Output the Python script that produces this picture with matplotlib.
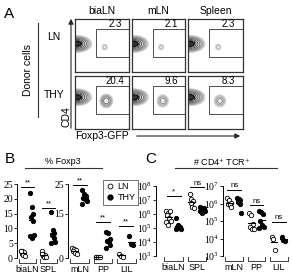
import numpy as np
import matplotlib
matplotlib.use("Agg")
import matplotlib.pyplot as plt
from matplotlib.lines import Line2D
from matplotlib.patches import Rectangle, FancyArrowPatch

W, H = 292, 275

# panel A: flow plots
flow_cols = ["biaLN", "mLN", "Spleen"]
flow_rows = ["LN", "THY"]
foxp3_pct = [[2.3, 2.1, 2.3], [20.4, 9.6, 8.3]]

# panel B: % Foxp3
b_left_groups = ["biaLN", "SPL"]
b_left_ln = [[2.3, 2.2, 2.0, 1.5, 1.0, 0.8, 2.5], [2.2, 1.5, 1.0, 0.8, 0.5, 0.3, 1.2]]
b_left_thy = [[21.8, 17.1, 14.7, 13.8, 12.4, 7.9, 7.4, 6.9],
              [15.4, 9.6, 8.6, 7.9, 6.6, 5.4, 4.9]]
b_left_sig = ["**", "**"]
b_left_sig_y = [24.0, 17.0]

b_right_groups = ["mLN", "PP", "LIL"]
b_right_ln = [[3.5, 3.0, 2.6, 2.2, 1.8, 1.5], [0.5, 0.4, 0.3, 0.3, 0.2, 0.2], [1.3, 0.8, 0.5]]
b_right_thy = [[23.0, 21.5, 21.0, 20.3, 19.8, 19.2, 18.2],
               [8.8, 8.4, 6.5, 5.9, 5.4, 4.3, 3.4],
               [7.4, 4.8, 4.5]]
b_right_sig = ["**", "**", "**"]
b_right_sig_y = [24.5, 12.2, 10.8]

# panel C: # CD4+ TCR+ (log10 counts)
c_left_groups = ["biaLN", "SPL"]
c_left_ln = [[6.2, 6.1, 6.2, 5.9, 5.75, 5.5, 5.4, 5.2], [7.4, 7.1, 6.9, 6.8, 6.5, 6.4]]
c_left_thy = [[5.7, 5.2, 5.1, 5.05, 5.0, 4.95, 4.9], [6.5, 6.45, 6.4, 6.35, 6.3, 6.25, 6.2, 6.1]]
c_left_sig = ["*", "ns"]
c_left_sig_y = [7.3, 7.9]

c_right_groups = ["mLN", "PP", "LIL"]
c_right_ln = [[6.3, 6.2, 6.05, 5.95, 5.9, 5.8], [5.45, 5.35, 4.85, 4.65, 4.55, 4.55], [4.1, 4.0, 3.35]]
c_right_thy = [[6.3, 6.25, 6.2, 6.1, 5.95, 5.45], [5.55, 5.5, 5.4, 5.0, 4.75, 4.65, 4.6], [4.1, 3.9, 3.85]]
c_right_sig = ["ns", "ns", "ns"]
c_right_sig_y = [6.77, 5.9, 4.94]

SANS = "Liberation Sans"
SERIF = "Liberation Serif"
plt.rcParams["mathtext.fontset"] = "stix"


def rect(x0, y0, x1, y1):
    return [x0 / W, 1 - y1 / H, (x1 - x0) / W, (y1 - y0) / H]


def ftext(fig, x, y, s, **kw):
    kw.setdefault("family", SANS)
    fig.text(x / W, 1 - y / H, s, ha=kw.pop("ha", "center"), va=kw.pop("va", "center"), **kw)


def fline(fig, x0, y0, x1, y1, **kw):
    fig.add_artist(Line2D([x0 / W, x1 / W], [1 - y0 / H, 1 - y1 / H],
                          transform=fig.transFigure, **kw))


def farrow(fig, x0, y0, x1, y1):
    fig.add_artist(FancyArrowPatch((x0 / W, 1 - y0 / H), (x1 / W, 1 - y1 / H),
                                   transform=fig.transFigure,
                                   arrowstyle="-|>,head_length=3,head_width=1.5",
                                   color="0.15", lw=0.8))


def flow_plot(ax, pct, row):
    xs = np.linspace(-0.3, 1.05, 240)
    ys = np.linspace(-0.05, 1.05, 220)
    X, Y = np.meshgrid(xs, ys)
    my = 0.53 if row == 0 else 0.60
    main = np.exp(-((X - 0.04) ** 2 / (2 * 0.085 ** 2) + (Y - my) ** 2 / (2 * 0.05 ** 2)))
    by = 0.47 if row == 0 else 0.53
    bx = 0.55 if row == 0 else 0.58
    bs = 0.03 if row == 0 else 0.045
    amp = pct / 100 * 1.1
    blob = amp * np.exp(-((X - bx) ** 2 / (2 * bs ** 2) + (Y - by) ** 2 / (2 * (bs * 1.1) ** 2)))
    Z = main + blob
    levels = [0.007, 0.015, 0.03, 0.06, 0.12, 0.25, 0.45, 0.7]
    cols = [str(g) for g in np.linspace(0.8, 0.05, len(levels))]
    ax.contourf(X, Y, Z, levels=[0.45, 2], colors=["0.2"])
    ax.contourf(X, Y, Z, levels=[0.007, 0.45], colors=["0.93"])
    ax.contour(X, Y, Z, levels=levels, colors=cols, linewidths=0.6)
    ax.add_patch(Rectangle((0.39, 0.28), 0.61, 0.53, fill=False, lw=0.7, ec="0.3"))
    ax.text(0.74, 0.9, f"{pct}", ha="center", va="center", fontsize=7, family=SANS)
    ax.set_xlim(0, 1)
    ax.set_ylim(0, 1)
    ax.set_xticks([])
    ax.set_yticks([])
    for s in ax.spines.values():
        s.set_linewidth(0.9)
        s.set_color("0.2")


def offsets(n, w):
    return ((np.arange(n) % 3) - 1) * w + ((np.arange(n) // 3) % 2 - 0.5) * w * 0.5


def dot_plot(ax, groups, ln, thy, sig, sig_y, log=False):
    tr = ax.get_xaxis_transform()
    for g, name in enumerate(groups):
        for vals, dx, filled in [(ln[g], -0.22, False), (thy[g], 0.22, True)]:
            v = np.array(vals, dtype=float)
            if log:
                v = 10 ** v
            x = g + dx + offsets(len(v), 0.08)
            ax.scatter(x, v, s=10, facecolor="black" if filled else "white",
                       edgecolor="black", linewidth=0.6, zorder=3, clip_on=False)
            m = np.exp(np.mean(np.log(v))) if log else v.mean()
            ax.plot([g + dx - 0.15, g + dx + 0.15], [m, m], color="black", lw=0.8, zorder=4)
        sy = 10 ** sig_y[g] if log else sig_y[g]
        ax.plot([g - 0.3, g + 0.3], [sy, sy], color="black", lw=0.7, clip_on=False)
        ax.annotate(sig[g], (g, sy), xytext=(0, 0.5), textcoords="offset points",
                    ha="center", va="bottom", fontsize=5.5, family=SANS, annotation_clip=False)
        # bracket under the group
        ax.plot([g - 0.4, g - 0.4, g + 0.4, g + 0.4], [-0.02, -0.07, -0.07, -0.02],
                transform=tr, color="0.25", lw=0.7, clip_on=False)
        ax.text(g, -0.16, name, transform=tr, ha="center", va="center",
                fontsize=6.5, family=SANS)
    ax.spines["top"].set_visible(False)
    ax.spines["right"].set_visible(False)
    ax.spines["bottom"].set_visible(False)
    ax.set_xticks([])
    ax.tick_params(axis="y", length=2, width=0.6, pad=1, labelsize=7)
    ax.spines["left"].set_linewidth(0.7)


fig = plt.figure(figsize=(W / 100, H / 100), dpi=100)

# ---- panel A ----
col_x = [(75, 129), (132, 185), (188, 243)]
row_y = [(19, 72), (76, 129)]
for r in range(2):
    for c in range(3):
        ax = fig.add_axes(rect(col_x[c][0], row_y[r][0], col_x[c][1], row_y[r][1]))
        flow_plot(ax, foxp3_pct[r][c], r)
for c, name in enumerate(flow_cols):
    ftext(fig, (col_x[c][0] + col_x[c][1]) / 2, 11, name, fontsize=7.5)
ftext(fig, 9, 14, "A", fontsize=11)
ftext(fig, 28, 70, "Donor cells", fontsize=7.5, rotation=90)
fline(fig, 38, 23, 38, 117, color="0.2", lw=0.8)
for r, name in enumerate(flow_rows):
    ftext(fig, 54, 37 if r == 0 else 95, name, fontsize=7.5)
ftext(fig, 66, 117, "CD4", fontsize=7.5, rotation=90)
ftext(fig, 102, 136, "Foxp3-GFP", fontsize=7.5)
farrow(fig, 71, 131, 71, 16)
farrow(fig, 134, 136, 243, 136)

# ---- panel B ----
ftext(fig, 10, 159, "B", fontsize=11)
ftext(fig, 63, 162, "% Foxp3", fontsize=6.5)
fline(fig, 25, 168, 102, 168, color="0.2", lw=0.8)

axb1 = fig.add_axes(rect(17, 184, 58, 258))
dot_plot(axb1, b_left_groups, b_left_ln, b_left_thy, b_left_sig, b_left_sig_y)
axb1.set_xlim(-0.5, 1.45)
axb1.set_ylim(0, 25)
axb1.set_yticks([0, 5, 10, 15, 20, 25])

axb2 = fig.add_axes(rect(68, 184, 138, 258))
dot_plot(axb2, b_right_groups, b_right_ln, b_right_thy, b_right_sig, b_right_sig_y)
axb2.set_xlim(-0.5, 2.5)
axb2.set_ylim(0, 25)
axb2.set_yticks([0, 15, 25])
hl = [Line2D([], [], marker="o", ls="", mfc="white", mec="black", ms=3.5, mew=0.6),
      Line2D([], [], marker="o", ls="", mfc="black", mec="black", ms=3.5)]
leg = axb2.legend(hl, ["LN", "THY"], loc="upper right", bbox_to_anchor=(1.0, 1.06),
                  frameon=True, fancybox=False, handletextpad=0.3,
                  borderpad=0.3, labelspacing=0.2, handlelength=1.0, borderaxespad=0,
                  prop={"family": SANS, "size": 6.5})
leg.get_frame().set_edgecolor("0.3")
leg.get_frame().set_linewidth(0.7)

# ---- panel C ----
ftext(fig, 151, 159, "C", fontsize=11)
ftext(fig, 222, 162, "# CD4$^{+}$ TCR$^{+}$", fontsize=6.5)
fline(fig, 175, 168, 277, 168, color="0.2", lw=0.8)

axc1 = fig.add_axes(rect(156, 186, 210, 256))
axc1.set_yscale("log")
dot_plot(axc1, c_left_groups, c_left_ln, c_left_thy, c_left_sig, c_left_sig_y, log=True)
axc1.set_xlim(-0.75, 1.55)
axc1.set_ylim(1e3, 1e8)
axc1.set_yticks([10.0 ** k for k in range(3, 9)])
axc1.minorticks_off()

axc2 = fig.add_axes(rect(223, 186, 290, 256))
axc2.set_yscale("log")
dot_plot(axc2, c_right_groups, c_right_ln, c_right_thy, c_right_sig, c_right_sig_y, log=True)
axc2.set_xlim(-0.5, 2.5)
axc2.set_ylim(1e3, 1e7)
axc2.set_yticks([10.0 ** k for k in range(3, 8)])
axc2.minorticks_off()

for ax in (axb1, axb2, axc1, axc2):
    for lab in ax.get_yticklabels():
        lab.set_family(SERIF)

fig.savefig("out.png", dpi=100)
